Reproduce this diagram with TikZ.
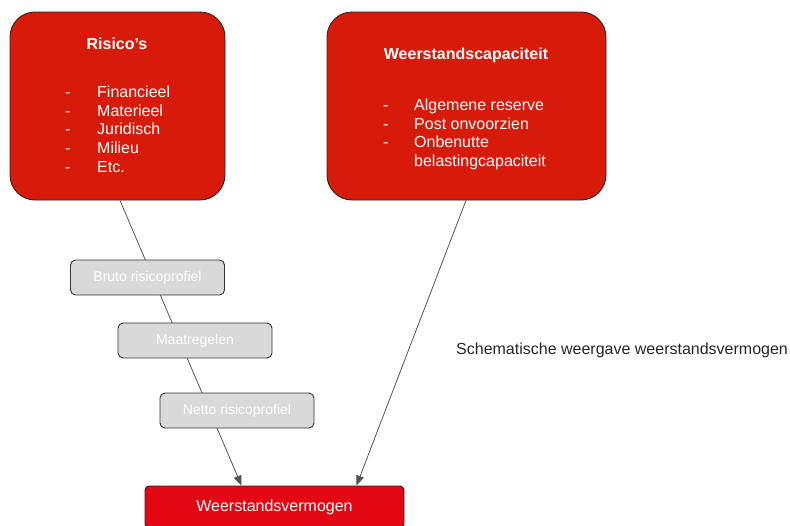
\documentclass[tikz,border=0pt]{standalone}
\usepackage{fontspec}
\setmainfont{Liberation Sans}
\usetikzlibrary{arrows.meta,backgrounds}
\definecolor{bigred}{HTML}{D81A0A}
\definecolor{wvred}{HTML}{E30613}
\definecolor{greybox}{HTML}{D9D9D9}
\definecolor{linegrey}{HTML}{555555}
\tikzset{
  bigbox/.style={draw=black!85, line width=0.9pt, fill=bigred, rounded corners=25pt, inner sep=0pt},
  greystep/.style={draw=black!80, line width=0.9pt, fill=greybox, rounded corners=5pt, minimum width=154pt, minimum height=35pt, inner sep=0pt, text=white, font=\fontsize{14}{16}\selectfont},
  wvbox/.style={draw=black!85, line width=0.9pt, fill=wvred, rounded corners=4pt, minimum width=259pt, minimum height=42pt, inner sep=0pt, text=white, font=\fontsize{16}{18}\selectfont},
  title/.style={text=white, font=\bfseries\fontsize{16}{18}\selectfont, inner sep=0pt},
  items/.style={text=white, font=\fontsize{16}{18.75}\selectfont, inner sep=0pt, anchor=north west, align=left},
  conn/.style={draw=linegrey, line width=0.8pt, -{Triangle[length=10pt,width=8pt]}},
  caption/.style={text=black!85, font=\fontsize{16}{18}\selectfont, inner sep=0pt, anchor=west}
}
\begin{document}
\begin{tikzpicture}[x=1pt,y=-1pt]
\useasboundingbox (0,0) rectangle (790,525);
\node[bigbox, minimum width=215pt, minimum height=188pt] (ris) at (117.5,106) {};
\node[bigbox, minimum width=279pt, minimum height=188pt] (wc) at (466.5,106) {};
\node[title] (rist) at (117,44) {Risico’s};
\node[items] (risl) at (65,84) {\begin{tabular}{@{}p{32pt}@{}l@{}}-&Financieel\\-&Materieel\\-&Juridisch\\-&Milieu\\-&Etc.\end{tabular}};
\node[title] (wct) at (466,55) {Weerstandscapaciteit};
\node[items] (wcl) at (383,97) {\begin{tabular}{@{}p{31pt}@{}l@{}}-&Algemene reserve\\-&Post onvoorzien\\-&Onbenutte\\&belastingcapaciteit\end{tabular}};
\node[greystep] (bruto) at (147.5,277.5) {Bruto risicoprofiel};
\node[greystep] (maat) at (195,340.5) {Maatregelen};
\node[greystep] (netto) at (237,410.5) {Netto risicoprofiel};
\node[wvbox] (wv) at (274.5,507) {Weerstandsvermogen};
\node[caption] (cap) at (456,350) {Schematische weergave weerstandsvermogen};
\begin{scope}[on background layer]
\draw[conn] ([xshift=2.5pt]ris.south) -- ([xshift=-33pt]wv.north);
\draw[conn] ([xshift=-0.5pt]wc.south) -- ([xshift=82pt]wv.north);
\end{scope}
\end{tikzpicture}
\end{document}
